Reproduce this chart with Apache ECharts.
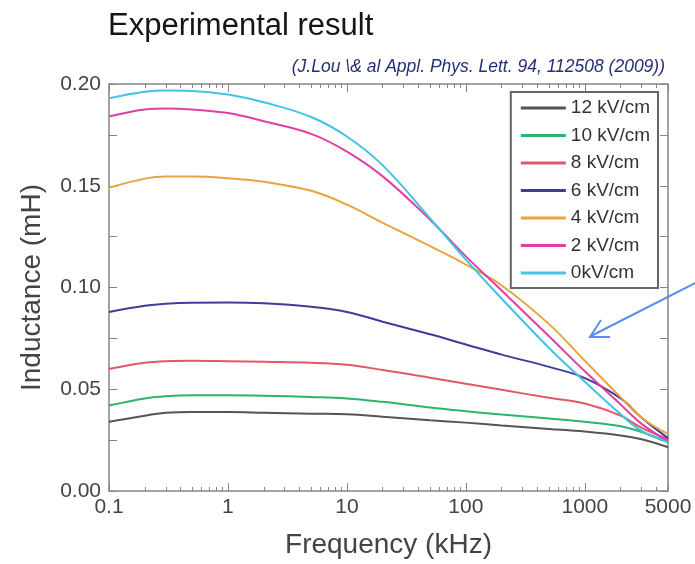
<!DOCTYPE html>
<html>
<head>
<meta charset="utf-8">
<title>Experimental result</title>
<script src="https://cdn.jsdelivr.net/npm/echarts@6/dist/echarts.min.js"></script>
<style>
  html, body { margin: 0; padding: 0; background: #fff; }
  #chart { width: 695px; height: 564px; }
</style>
</head>
<body>
<div id="chart"></div>
<script>
// frequency points (kHz)
const freq = [0.1, 0.2, 0.3, 0.5, 1, 2, 5, 10, 20, 50, 100, 200, 500, 1000, 2000, 3000, 5000]

// inductance (mH) per bias field
const kv12 = [0.034, 0.037, 0.0385, 0.0388, 0.0388, 0.0385, 0.038, 0.0377, 0.0365, 0.0348, 0.0336, 0.0322, 0.0305, 0.0292, 0.0273, 0.0254, 0.0215]
const kv10 = [0.042, 0.0455, 0.0465, 0.047, 0.047, 0.0468, 0.0462, 0.0455, 0.0438, 0.041, 0.0392, 0.0376, 0.0356, 0.034, 0.0318, 0.029, 0.024]
const kv8 = [0.060, 0.063, 0.0638, 0.064, 0.0638, 0.0635, 0.063, 0.062, 0.0595, 0.0557, 0.0527, 0.0497, 0.0458, 0.043, 0.037, 0.031, 0.0255]
const kv6 = [0.088, 0.091, 0.092, 0.0925, 0.0926, 0.0922, 0.0905, 0.088, 0.0832, 0.077, 0.072, 0.067, 0.061, 0.0555, 0.0455, 0.036, 0.026]
const kv4 = [0.149, 0.1535, 0.1545, 0.1545, 0.1537, 0.152, 0.1475, 0.1407, 0.1318, 0.1203, 0.1113, 0.101, 0.082, 0.064, 0.046, 0.036, 0.028]
const kv2 = [0.184, 0.1875, 0.188, 0.1875, 0.1857, 0.1817, 0.1755, 0.1668, 0.1546, 0.1333, 0.1153, 0.0985, 0.076, 0.0588, 0.0425, 0.033, 0.0245]
const kv0 = [0.193, 0.1962, 0.1968, 0.1966, 0.1948, 0.191, 0.1838, 0.1742, 0.160, 0.134, 0.1137, 0.0945, 0.0703, 0.0537, 0.0377, 0.0295, 0.024]

const names = ['12 kV/cm', '10 kV/cm', '8 kV/cm', '6 kV/cm', '4 kV/cm', '2 kV/cm', '0kV/cm']
const values = [kv12, kv10, kv8, kv6, kv4, kv2, kv0]
const colors = ['#555555', '#2bb56c', '#e4566a', '#3d3d9c', '#eaa33e', '#e040a4', '#42c2e4']

// log minor tick positions (2..9 of every decade)
const minorTicks = []
;[0.1, 1, 10, 100, 1000].forEach((d) => {
  for (let k = 2; k <= 9; k++) {
    if (d * k < 5000) minorTicks.push(+(d * k).toPrecision(4))
  }
})

const frameColor = '#858585'
const labelFont = { fontFamily: 'Liberation Sans', fontSize: 21, color: '#444' }

const chart = echarts.init(document.getElementById('chart'))

function xAxisBase(position, isMinor) {
  return {
    type: 'log',
    logBase: 10,
    min: 0.1,
    max: 5000,
    position: position,
    axisLine: { show: !isMinor, lineStyle: { color: frameColor, width: 1.5 } },
    axisTick: isMinor
      ? { show: true, inside: true, length: 4, customValues: minorTicks, lineStyle: { color: frameColor, width: 1 } }
      : { show: true, inside: true, length: 8, lineStyle: { color: frameColor, width: 1 } },
    axisLabel: { show: false },
    splitLine: { show: false },
    minorTick: { show: false }
  }
}

function yAxisBase(position) {
  return {
    type: 'value',
    min: 0,
    max: 0.2,
    interval: 0.025,
    position: position,
    axisLine: { show: true, lineStyle: { color: frameColor, width: 1.5 } },
    axisTick: { show: true, inside: true, length: 8, lineStyle: { color: frameColor, width: 1 } },
    axisLabel: { show: false },
    splitLine: { show: false }
  }
}

const xMain = xAxisBase('bottom', false)
xMain.name = 'Frequency (kHz)'
xMain.nameLocation = 'middle'
xMain.nameGap = 40
xMain.nameTextStyle = { fontFamily: 'Liberation Sans', fontSize: 28, color: '#444' }
xMain.axisLabel = {
  show: true,
  margin: 6,
  ...labelFont,
  formatter: (v) => String(+Number(v).toPrecision(6))
}

const yMain = yAxisBase('left')
yMain.name = 'Inductance (mH)'
yMain.nameLocation = 'middle'
yMain.nameGap = 63
yMain.nameTextStyle = { fontFamily: 'Liberation Sans', fontSize: 28, color: '#444' }
yMain.axisLabel = {
  show: true,
  margin: 8,
  ...labelFont,
  formatter: (v) => {
    const r = Math.round(v * 1000)
    return r % 50 === 0 ? (r / 1000).toFixed(2) : ''
  }
}

const option = {
  animation: false,
  backgroundColor: '#fff',
  color: colors,
  title: [
    {
      text: 'Experimental result',
      left: 103,
      top: 6,
      textStyle: { fontFamily: 'Liberation Sans', fontSize: 31, fontWeight: 'normal', color: '#151515' }
    },
    {
      text: '(J.Lou \\& al Appl. Phys. Lett. 94, 112508 (2009))',
      right: 25,
      top: 53,
      textStyle: { fontFamily: 'Liberation Sans', fontSize: 17.5, fontStyle: 'italic', fontWeight: 'normal', color: '#252f78' }
    }
  ],
  grid: { left: 109, right: 27, top: 84, bottom: 72, containLabel: false },
  legend: {
    orient: 'vertical',
    right: 37,
    top: 92,
    data: names,
    icon: 'rect',
    itemWidth: 45,
    itemHeight: 3,
    itemGap: 7.5,
    padding: [6, 8, 5, 10],
    borderColor: '#666',
    borderWidth: 2,
    borderRadius: 0,
    backgroundColor: '#fff',
    textStyle: { fontFamily: 'Liberation Sans', fontSize: 19, color: '#333', lineHeight: 20 }
  },
  xAxis: [xMain, xAxisBase('bottom', true), xAxisBase('top', false), xAxisBase('top', true)],
  yAxis: [yMain, yAxisBase('right')],
  series: names.map((name, i) => ({
    name: name,
    type: 'line',
    xAxisIndex: 0,
    yAxisIndex: 0,
    smooth: 0.4,
    showSymbol: false,
    lineStyle: { width: 2, color: colors[i] },
    itemStyle: { color: colors[i] },
    data: freq.map((f, j) => [f, values[i][j]])
  })),
  graphic: [
    {
      type: 'line',
      shape: { x1: 697, y1: 282, x2: 591, y2: 336 },
      style: { stroke: '#5b8cf2', lineWidth: 2 }
    },
    {
      type: 'polyline',
      shape: { points: [[601, 320], [590, 337], [610, 337]] },
      style: { stroke: '#5b8cf2', lineWidth: 2, fill: null }
    }
  ]
}

chart.setOption(option)
window.addEventListener('resize', () => {
  chart.resize()
})
</script>
</body>
</html>
